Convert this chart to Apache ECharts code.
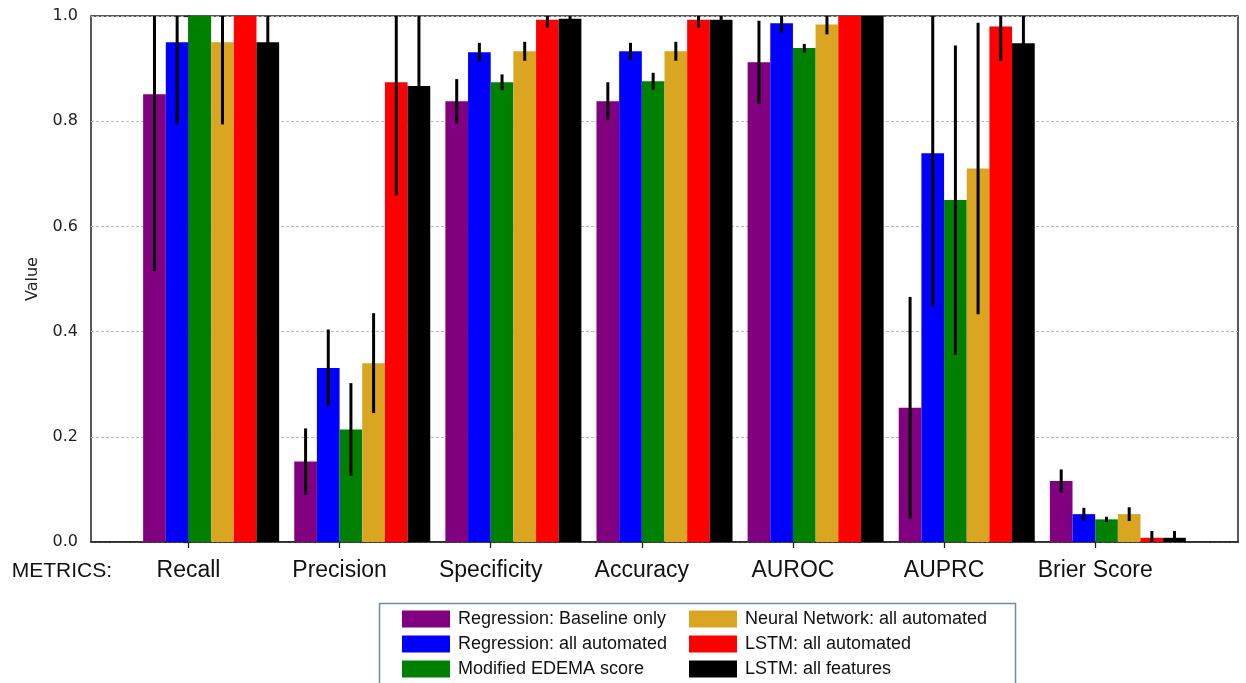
<!DOCTYPE html>
<html>
<head>
<meta charset="utf-8">
<script src="https://cdn.jsdelivr.net/npm/echarts@6/dist/echarts.min.js"></script>
<style>
  html, body { margin: 0; padding: 0; background: #fff; }
  #chart { width: 1246px; height: 683px; }
</style>
</head>
<body>
<div id="chart"></div>
<script>
// metrics on the x axis
const categories = ["Recall", "Precision", "Specificity", "Accuracy", "AUROC", "AUPRC", "Brier Score"];

const seriesNames = [
  "Regression: Baseline only",
  "Regression: all automated",
  "Modified EDEMA score",
  "Neural Network: all automated",
  "LSTM: all automated",
  "LSTM: all features"
];
const seriesColors = ["#800080", "#0000ff", "#008000", "#daa520", "#ff0000", "#000000"];

// mean values, one array per model
const baselineOnly   = [0.851, 0.153, 0.838, 0.838, 0.912, 0.255, 0.116];
const regAutomated   = [0.950, 0.331, 0.931, 0.933, 0.986, 0.739, 0.053];
const edemaScore     = [1.000, 0.214, 0.874, 0.876, 0.939, 0.650, 0.043];
const nnAutomated    = [0.950, 0.340, 0.933, 0.933, 0.984, 0.710, 0.053];
const lstmAutomated  = [1.000, 0.874, 0.993, 0.993, 1.000, 0.980, 0.008];
const lstmFeatures   = [0.950, 0.867, 0.995, 0.993, 1.000, 0.948, 0.008];

// error bar half widths
const baselineErr      = [0.336, 0.063, 0.042, 0.036, 0.079, 0.211, 0.022];
const regAutomatedErr  = [0.156, 0.073, 0.018, 0.016, 0.018, 0.291, 0.012];
const edemaErr         = [0.000, 0.088, 0.015, 0.016, 0.008, 0.294, 0.005];
const nnAutomatedErr   = [0.156, 0.095, 0.018, 0.018, 0.019, 0.277, 0.013];
const lstmAutomatedErr = [0.000, 0.215, 0.015, 0.015, 0.000, 0.065, 0.013];
const lstmFeaturesErr  = [0.100, 0.200, 0.005, 0.010, 0.000, 0.080, 0.013];

const yTicks = [0, 0.2, 0.4, 0.6, 0.8, 1.0];

const values = [baselineOnly, regAutomated, edemaScore, nnAutomated, lstmAutomated, lstmFeatures];
const errors = [baselineErr, regAutomatedErr, edemaErr, nnAutomatedErr, lstmAutomatedErr, lstmFeaturesErr];

const barW = 0.15;

const chart = echarts.init(document.getElementById("chart"));

const series = values.map((vals, k) => ({
  name: seriesNames[k],
  type: "custom",
  clip: true,
  itemStyle: { color: seriesColors[k] },
  encode: { x: 0, y: 1 },
  data: vals.map((v, i) => [i, v, errors[k][i]]),
  renderItem: (params, api) => {
    const x0 = api.value(0) + (k - 2) * barW;
    const v = api.value(1);
    const e = api.value(2);
    const tl = api.coord([x0, v]);
    const br = api.coord([x0 + barW, 0]);
    const children = [{
      type: "rect",
      shape: { x: tl[0], y: tl[1], width: br[0] - tl[0], height: br[1] - tl[1] },
      style: { fill: seriesColors[k] }
    }];
    if (e > 0) {
      const lo = api.coord([x0 + barW / 2, v - e]);
      const hi = api.coord([x0 + barW / 2, v + e]);
      children.push({
        type: "line",
        z2: 10,
        shape: { x1: lo[0], y1: lo[1], x2: hi[0], y2: hi[1] },
        style: { stroke: "#000", lineWidth: 3 }
      });
    }
    return { type: "group", children };
  }
}));

const legendText = {
  fontFamily: "'Liberation Sans', Arial, sans-serif",
  fontSize: 18,
  lineHeight: 17,
  color: "#111",
  padding: [0, 0, 0, 3]
};

const legendBase = {
  orient: "vertical",
  top: 610,
  height: 100,
  padding: 0,
  itemWidth: 48, itemHeight: 17, itemGap: 7,
  icon: "rect",
  textStyle: legendText,
  selectedMode: false
};

const option = {
  animation: false,
  backgroundColor: "#fff",
  grid: {
    left: 91, right: 8, top: 16, bottom: 141,
    show: true, borderColor: "#222", borderWidth: 1.5
  },
  xAxis: {
    type: "value",
    min: -0.645,
    max: 6.945,
    name: "METRICS:",
    nameLocation: "start",
    nameGap: -21,
    nameTextStyle: {
      fontFamily: "'Liberation Sans', sans-serif",
      fontSize: 21, color: "#111",
      align: "right", verticalAlign: "top", padding: [19, 0, 0, 0]
    },
    splitLine: { show: false },
    axisLine: { show: true, lineStyle: { color: "#222", width: 1.5 } },
    axisTick: {
      show: true, length: 6, inside: false,
      customValues: categories.map((c, i) => i),
      lineStyle: { color: "#222", width: 1.3 }
    },
    axisLabel: {
      customValues: categories.map((c, i) => i),
      formatter: v => categories[Math.round(v)] || "",
      fontFamily: "'Liberation Sans', sans-serif",
      fontSize: 23, color: "#111", margin: 17
    }
  },
  yAxis: {
    type: "value",
    min: 0, max: 1, interval: 0.2,
    name: "Value",
    nameLocation: "middle",
    nameGap: 50,
    nameTextStyle: { fontFamily: "'DejaVu Sans', sans-serif", fontSize: 16, color: "#222" },
    axisLine: { show: true, lineStyle: { color: "#222", width: 1.5 } },
    axisTick: { show: true, length: 5, lineStyle: { color: "#222", width: 1.3 } },
    axisLabel: {
      customValues: yTicks,
      formatter: v => v.toFixed(1),
      fontFamily: "'DejaVu Sans', sans-serif",
      fontSize: 16, color: "#222", margin: 13
    },
    splitLine: { show: true, lineStyle: { color: "#bbb", type: [3, 2], width: 1 } }
  },
  legend: [
    Object.assign({}, legendBase, { data: seriesNames.slice(0, 3), left: 402 }),
    Object.assign({}, legendBase, { data: seriesNames.slice(3), left: 689 })
  ],
  graphic: [{
    type: "rect",
    left: 377, top: 601,
    shape: { width: 636, height: 100 },
    style: { fill: "none", stroke: "#6d8bb5", lineWidth: 1.5 },
    z: -1
  }],
  series
};

chart.setOption(option);
</script>
</body>
</html>
